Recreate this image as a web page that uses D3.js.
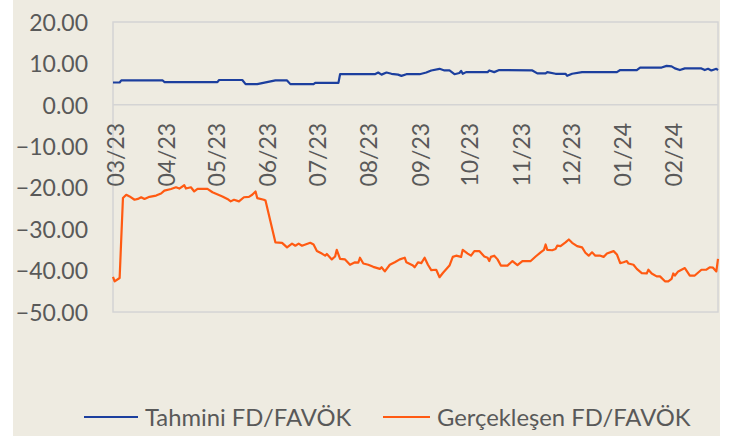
<!DOCTYPE html>
<html>
<head>
<meta charset="utf-8">
<script src="https://cdn.jsdelivr.net/npm/d3@7/dist/d3.min.js"></script>
<style>
    html, body { margin: 0; padding: 0; background: #fff; }
    svg text { font-family: Lato, "Open Sans", sans-serif; fill: #595959; }
</style>
</head>
<body>
<div class="chart"></div>
<script>
var seriesNames = ["Tahmini FD/FAVÖK", "Gerçekleşen FD/FAVÖK"];

var tahminiDates = ["2023-03-01", "2023-03-05", "2023-03-06", "2023-03-31", "2023-04-01", "2023-05-03", "2023-05-04",
    "2023-05-18", "2023-05-20", "2023-05-27", "2023-06-07", "2023-06-14", "2023-06-16", "2023-06-30", "2023-07-01",
    "2023-07-15", "2023-07-16", "2023-08-06", "2023-08-08", "2023-08-10", "2023-08-13", "2023-08-16", "2023-08-20",
    "2023-08-22", "2023-08-25", "2023-09-02", "2023-09-06", "2023-09-09", "2023-09-14", "2023-09-17", "2023-09-20",
    "2023-09-23", "2023-09-26", "2023-09-27", "2023-09-28", "2023-09-30", "2023-10-13", "2023-10-14", "2023-10-17",
    "2023-10-20", "2023-11-09", "2023-11-12", "2023-11-17", "2023-11-18", "2023-11-23", "2023-11-29", "2023-11-30",
    "2023-12-03", "2023-12-09", "2023-12-30", "2024-01-01", "2024-01-11", "2024-01-13", "2024-01-26", "2024-01-29",
    "2024-02-01", "2024-02-03", "2024-02-06", "2024-02-09", "2024-02-19", "2024-02-21", "2024-02-23", "2024-02-25",
    "2024-02-28", "2024-02-29"];
var tahminiValues = [5.4, 5.4, 5.9, 5.9, 5.5, 5.5, 6.0,
    6.0, 5.0, 5.0, 5.9, 5.9, 5.0, 5.0, 5.3,
    5.3, 7.4, 7.4, 7.8, 7.3, 7.8, 7.5, 7.3,
    7.0, 7.4, 7.4, 7.8, 8.3, 8.7, 8.3, 8.3,
    7.4, 7.7, 8.2, 7.5, 7.9, 7.9, 8.3, 7.9,
    8.4, 8.3, 7.6, 7.6, 7.9, 7.5, 7.5, 7.0,
    7.5, 7.9, 7.9, 8.4, 8.4, 9.0, 9.0, 9.4,
    9.3, 8.8, 8.4, 8.8, 8.8, 8.4, 8.7, 8.3,
    8.7, 8.4];

var gerceklesenDates = ["2023-03-01", "2023-03-02", "2023-03-05", "2023-03-07", "2023-03-09", "2023-03-11", "2023-03-14",
    "2023-03-16", "2023-03-18", "2023-03-20", "2023-03-23", "2023-03-27", "2023-03-30", "2023-04-01", "2023-04-05",
    "2023-04-08", "2023-04-10", "2023-04-13", "2023-04-14", "2023-04-17", "2023-04-19", "2023-04-21", "2023-04-27",
    "2023-04-30", "2023-05-06", "2023-05-09", "2023-05-11", "2023-05-13", "2023-05-16", "2023-05-19", "2023-05-22",
    "2023-05-24", "2023-05-26", "2023-05-27", "2023-05-31", "2023-06-01", "2023-06-07", "2023-06-11", "2023-06-14",
    "2023-06-17", "2023-06-19", "2023-06-21", "2023-06-23", "2023-06-28", "2023-06-30", "2023-07-02", "2023-07-05",
    "2023-07-07", "2023-07-08", "2023-07-11", "2023-07-13", "2023-07-14", "2023-07-16", "2023-07-19", "2023-07-22",
    "2023-07-25", "2023-07-27", "2023-07-28", "2023-07-30", "2023-08-02", "2023-08-05", "2023-08-09", "2023-08-10",
    "2023-08-12", "2023-08-15", "2023-08-18", "2023-08-21", "2023-08-24", "2023-08-25", "2023-08-29", "2023-08-30",
    "2023-09-01", "2023-09-03", "2023-09-05", "2023-09-07", "2023-09-09", "2023-09-12", "2023-09-14", "2023-09-16",
    "2023-09-20", "2023-09-22", "2023-09-24", "2023-09-27", "2023-09-28", "2023-10-01", "2023-10-03", "2023-10-05",
    "2023-10-08", "2023-10-11", "2023-10-13", "2023-10-14", "2023-10-15", "2023-10-17", "2023-10-19", "2023-10-21",
    "2023-10-25", "2023-10-28", "2023-10-31", "2023-11-03", "2023-11-08", "2023-11-11", "2023-11-14", "2023-11-16",
    "2023-11-17", "2023-11-18", "2023-11-21", "2023-11-23", "2023-11-24", "2023-11-26", "2023-11-29", "2023-12-01",
    "2023-12-03", "2023-12-06", "2023-12-09", "2023-12-11", "2023-12-13", "2023-12-15", "2023-12-17", "2023-12-20",
    "2023-12-22", "2023-12-24", "2023-12-28", "2023-12-30", "2024-01-01", "2024-01-03", "2024-01-05", "2024-01-06",
    "2024-01-09", "2024-01-11", "2024-01-14", "2024-01-17", "2024-01-18", "2024-01-20", "2024-01-23", "2024-01-25",
    "2024-01-28", "2024-01-30", "2024-02-01", "2024-02-02", "2024-02-03", "2024-02-05", "2024-02-09", "2024-02-12",
    "2024-02-15", "2024-02-19", "2024-02-22", "2024-02-24", "2024-02-26", "2024-02-28", "2024-02-29"];
var gerceklesenValues = [-41.5, -42.6, -41.8, -22.5, -21.7, -22.1, -22.9,
    -22.7, -22.3, -22.7, -22.2, -21.9, -21.4, -20.7, -20.3,
    -19.9, -20.2, -19.4, -20.2, -19.9, -20.9, -20.3, -20.3,
    -21.1, -22.1, -22.7, -23.3, -22.9, -23.3, -22.3, -22.2,
    -21.7, -20.9, -22.5, -22.9, -23.1, -33.2, -33.3, -34.4,
    -33.5, -34.0, -33.5, -34.0, -33.3, -33.7, -35.3, -35.9,
    -36.4, -36.0, -37.3, -36.6, -35.0, -37.2, -37.3, -38.6,
    -38.0, -38.1, -36.9, -38.3, -38.6, -39.1, -39.6, -39.2,
    -40.2, -38.6, -38.0, -37.3, -36.9, -38.0, -38.8, -39.2,
    -38.0, -38.2, -36.9, -38.6, -39.9, -39.8, -41.6, -40.6,
    -38.8, -36.7, -36.4, -36.7, -35.0, -35.9, -36.4, -35.3,
    -35.3, -36.6, -36.9, -37.7, -36.7, -36.4, -37.3, -38.8,
    -38.8, -37.7, -38.7, -37.7, -37.7, -36.6, -35.6, -35.0,
    -33.7, -35.0, -35.1, -34.8, -34.0, -34.1, -33.2, -32.5,
    -33.3, -34.1, -34.4, -35.7, -36.4, -35.6, -36.4, -36.4,
    -36.7, -35.9, -35.3, -36.1, -38.2, -38.0, -37.7, -38.3,
    -38.6, -39.6, -40.6, -40.7, -39.8, -40.7, -41.4, -41.4,
    -42.6, -42.6, -42.0, -40.7, -41.2, -40.2, -39.4, -41.2,
    -41.2, -39.8, -39.8, -39.2, -39.3, -40.2, -37.2];

var yTicks = [20, 10, 0, -10, -20, -30, -40, -50];
var monthTicks = ["2023-03-01", "2023-04-01", "2023-05-01", "2023-06-01", "2023-07-01", "2023-08-01",
    "2023-09-01", "2023-10-01", "2023-11-01", "2023-12-01", "2024-01-01", "2024-02-01"];
var dateRange = ["2023-03-01", "2024-02-29"];

(function () {
    "use strict";

    var config = {
        selector: '.chart',
        width: 746,
        height: 436,
        plot: { left: 113, right: 718, top: 22, bottom: 312 },
        colors: ['#1c3f9e', '#ff5a12']
    };

    var parseDate = d3.timeParse('%Y-%m-%d');

    function toPoints(dates, values) {
        return dates.map(function (d, i) {
            return { date: parseDate(d), value: values[i] };
        });
    }

    function drawGraph() {
        var p = config.plot;
        var svg = d3.select(config.selector).append('svg')
            .attr('width', config.width)
            .attr('height', config.height);

        // beige panel
        svg.append('rect')
            .attr('x', 13).attr('y', 0)
            .attr('width', 707).attr('height', config.height)
            .attr('fill', '#eeebe1');

        var x = d3.scaleTime()
            .domain(dateRange.map(parseDate))
            .range([p.left, p.right]);

        var y = d3.scaleLinear()
            .domain([-50, 20])
            .range([p.bottom, p.top]);

        // plot frame + zero line
        svg.append('rect')
            .attr('x', p.left).attr('y', p.top)
            .attr('width', p.right - p.left).attr('height', p.bottom - p.top)
            .attr('fill', 'none')
            .attr('stroke', '#d4d4d4')
            .attr('stroke-width', 1.5);

        svg.append('line')
            .attr('x1', p.left).attr('x2', p.right)
            .attr('y1', y(0)).attr('y2', y(0))
            .attr('stroke', '#d4d4d4')
            .attr('stroke-width', 1.5);

        var yAxis = d3.axisLeft(y)
            .tickValues(yTicks)
            .tickFormat(d3.format('.2f'))
            .tickSize(0)
            .tickPadding(0);

        var yg = svg.append('g')
            .attr('transform', 'translate(88,0)')
            .call(yAxis);
        yg.select('.domain').remove();
        yg.selectAll('text')
            .attr('font-size', 23)
            .attr('fill', '#595959')
            .attr('dy', '0.36em');

        var xAxis = d3.axisBottom(x)
            .tickValues(monthTicks.map(parseDate))
            .tickFormat(d3.timeFormat('%m/%y'))
            .tickSize(0);

        var xg = svg.append('g')
            .attr('transform', 'translate(0,' + y(0) + ')')
            .call(xAxis);
        xg.select('.domain').remove();
        xg.selectAll('text')
            .attr('font-size', 23)
            .attr('fill', '#595959')
            .attr('y', 0)
            .attr('dy', '0.36em')
            .attr('text-anchor', 'end')
            .attr('transform', 'translate(2,18) rotate(-90)');

        var line = d3.line()
            .x(function (d) { return x(d.date); })
            .y(function (d) { return y(d.value); });

        var series = [
            toPoints(tahminiDates, tahminiValues),
            toPoints(gerceklesenDates, gerceklesenValues)
        ];

        svg.selectAll('.series')
            .data(series)
            .enter().append('path')
            .attr('class', 'series')
            .attr('d', line)
            .attr('fill', 'none')
            .attr('stroke', function (d, i) { return config.colors[i]; })
            .attr('stroke-width', 2.2)
            .attr('stroke-linejoin', 'round');

        // legend
        var legendPos = [{ x1: 84, x2: 138, tx: 145 }, { x1: 383, x2: 430, tx: 437 }];
        var legend = svg.selectAll('.legend')
            .data(seriesNames)
            .enter().append('g')
            .attr('class', 'legend')
            .attr('transform', 'translate(0,417)');

        legend.append('line')
            .attr('x1', function (d, i) { return legendPos[i].x1; })
            .attr('x2', function (d, i) { return legendPos[i].x2; })
            .attr('stroke', function (d, i) { return config.colors[i]; })
            .attr('stroke-width', 2.2);

        legend.append('text')
            .attr('x', function (d, i) { return legendPos[i].tx; })
            .attr('dy', '0.36em')
            .attr('font-size', 23.8)
            .text(function (d) { return d; });
    }

    drawGraph();
})();
</script>
</body>
</html>
